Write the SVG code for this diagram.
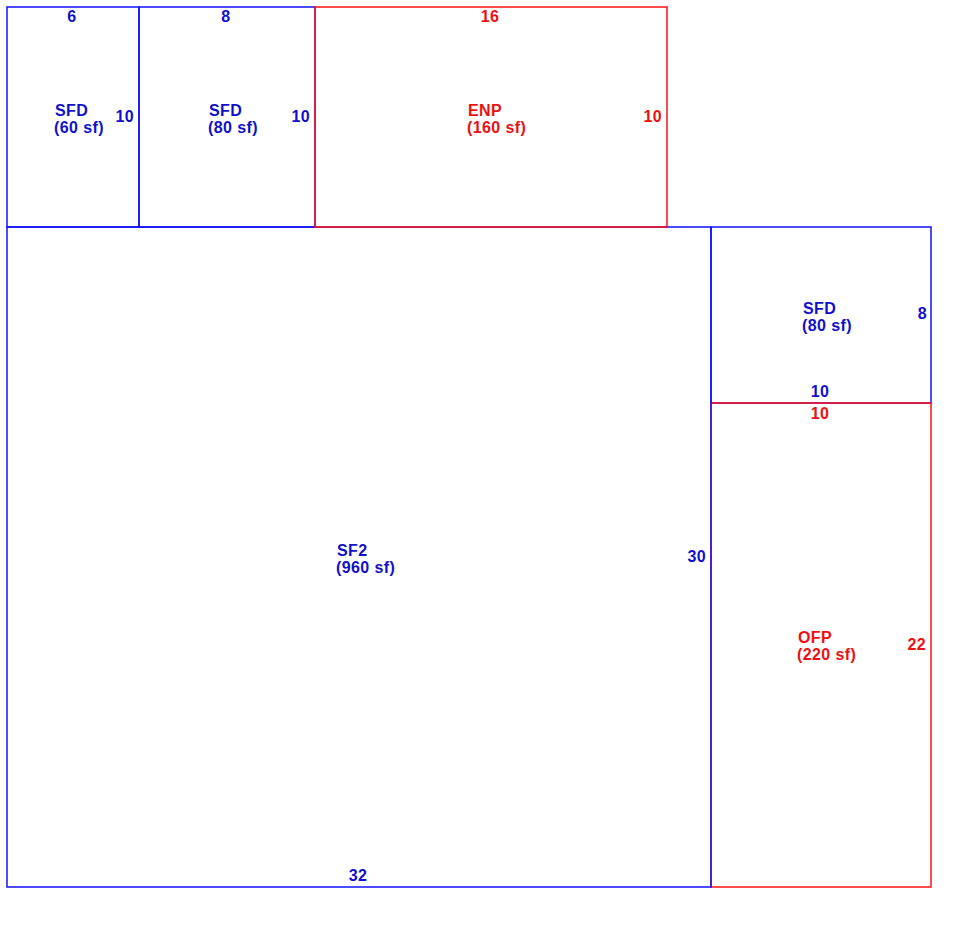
<svg xmlns="http://www.w3.org/2000/svg" width="970" height="929" viewBox="0 0 970 929">
<style>
text{font-family:"Liberation Sans",Arial,sans-serif;font-size:16px;font-weight:bold;letter-spacing:0.4px}
.b rect{fill:none;stroke:#1010ff;stroke-width:1.5}
.r rect{fill:none;stroke:#ff1010;stroke-width:1.5}
.b text{fill:#1010cc}
.r text{fill:#ee1010}
.m{text-anchor:middle}
.e{text-anchor:end}
</style>
<rect width="970" height="929" fill="#fff"/>
<g id="sfd1" class="b">
<rect x="7" y="7" width="132" height="220"/>
<text x="72" y="22" class="m">6</text>
<text x="55" y="116">SFD</text>
<text x="54" y="133">(60 sf)</text>
<text x="134" y="122" class="e">10</text>
</g>
<g id="sfd2" class="b">
<rect x="139" y="7" width="176" height="220"/>
<text x="226" y="22" class="m">8</text>
<text x="209" y="116">SFD</text>
<text x="208" y="133">(80 sf)</text>
<text x="310" y="122" class="e">10</text>
</g>
<g id="sfd3" class="b">
<rect x="711" y="227" width="220" height="176"/>
<text x="803" y="314">SFD</text>
<text x="802" y="331">(80 sf)</text>
<text x="927" y="319" class="e">8</text>
<text x="820" y="397" class="m">10</text>
</g>
<g id="ofp" class="r">
<rect x="711" y="403" width="220" height="484"/>
<text x="820" y="419" class="m">10</text>
<text x="798" y="643">OFP</text>
<text x="797" y="660">(220 sf)</text>
<text x="926" y="650" class="e">22</text>
</g>
<g id="sf2" class="b">
<rect x="7" y="227" width="704" height="660"/>
<text x="337" y="556">SF2</text>
<text x="336" y="573">(960 sf)</text>
<text x="706" y="562" class="e">30</text>
<text x="358" y="881" class="m">32</text>
</g>
<g id="enp" class="r">
<rect x="315" y="7" width="352" height="220"/>
<text x="490" y="22" class="m">16</text>
<text x="468" y="116">ENP</text>
<text x="467" y="133">(160 sf)</text>
<text x="662" y="122" class="e">10</text>
</g>
<g id="connectors"/>
</svg>
